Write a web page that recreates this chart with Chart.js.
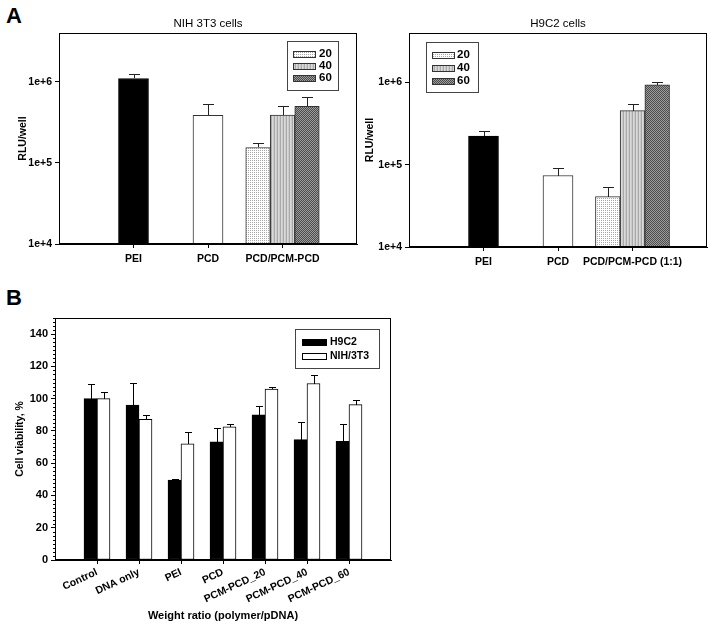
<!DOCTYPE html>
<html><head><meta charset="utf-8">
<script src="https://cdn.jsdelivr.net/npm/chart.js@4"></script>
<style>
html,body{margin:0;padding:0;background:#fff;}
body{width:714px;height:628px;position:relative;overflow:hidden;font-family:"Liberation Sans",Arial,sans-serif;}
canvas{position:absolute;}
.panel{position:absolute;font-weight:bold;font-size:22px;line-height:1;color:#000;}
</style></head><body>
<div class="panel" style="left:6px;top:5px">A</div>
<div class="panel" style="left:6px;top:287px">B</div>
<canvas id="c1" width="362" height="285" style="left:0;top:0"></canvas>
<canvas id="c2" width="359" height="290" style="left:355px;top:0"></canvas>
<canvas id="c3" width="420" height="328" style="left:0;top:300px"></canvas>
<script>
// ---------- DATA ----------
const singleGroups = ['PEI', 'PCD'];
const ratioLabels = ['20', '40', '60'];
const nihCategories = ['PEI', 'PCD', 'PCD/PCM-PCD'];
const h9Categories = ['PEI', 'PCD', 'PCD/PCM-PCD (1:1)'];
const nihTitle = 'NIH 3T3 cells';
const h9Title = 'H9C2 cells';
const nihSingle = [1.1e6, 3.85e5];
const nihSingleErr = [1.4e5, 1.55e5];
const nihRatio = [1.55e5, 3.9e5, 5.0e5];
const nihRatioErr = [2.0e4, 1.1e5, 1.5e5];
const h9Single = [2.23e5, 7.4e4];
const h9SingleErr = [3.4e4, 1.7e4];
const h9Ratio = [4.1e4, 4.56e5, 9.35e5];
const h9RatioErr = [1.3e4, 8.7e4, 7.5e4];
const rluTicks = [1e4, 1e5, 1e6];
const rluTickLabels = ['1e+4', '1e+5', '1e+6'];

const viabilityCategories = ['Control', 'DNA only', 'PEI', 'PCD', 'PCM-PCD_20', 'PCM-PCD_40', 'PCM-PCD_60'];
const viabilitySeries = ['H9C2', 'NIH/3T3'];
const h9Viability = [100, 96, 49.5, 73.3, 90, 74.6, 73.6];
const h9ViabilityErr = [8.9, 14, 0.8, 8.3, 5.4, 11.1, 10.7];
const nihViability = [100, 87.2, 72, 82.6, 106, 109.4, 96.3];
const nihViabilityErr = [4.3, 2.8, 7.1, 1.9, 1.0, 5.2, 2.7];
const viabilityTicks = [0, 20, 40, 60, 80, 100, 120, 140];

// ---------- STYLE HELPERS ----------
const FONT = "'Liberation Sans', Arial, sans-serif";
Chart.defaults.font.family = FONT;
Chart.defaults.color = '#000';

const dummy = document.createElement('canvas').getContext('2d');
function makePattern(w, h, bg, fg, cells) {
  const c = document.createElement('canvas'); c.width = w; c.height = h;
  const x = c.getContext('2d');
  x.fillStyle = bg; x.fillRect(0, 0, w, h);
  x.fillStyle = fg;
  cells.forEach(([a, b]) => x.fillRect(a, b, 1, 1));
  return dummy.createPattern(c, 'repeat');
}
function stripePattern(cols) {
  const c = document.createElement('canvas'); c.width = cols.length; c.height = 1;
  const x = c.getContext('2d');
  cols.forEach((col, i) => { x.fillStyle = col; x.fillRect(i, 0, 1, 1); });
  return dummy.createPattern(c, 'repeat');
}
const ratioFills = [
  makePattern(2, 2, '#ffffff', '#a8a8a8', [[0, 0]]),
  stripePattern(['#cacaca', '#a9a9a9', '#dadada']),
  makePattern(2, 2, '#4c4c4c', '#9c9c9c', [[0, 0], [1, 1]])
];

function padAt(n, idx, v) { const a = Array(n).fill(null); a[idx] = v; return a; }

// ---------- PLUGINS ----------
const framePlugin = {
  id: 'frame',
  afterDraw(chart) {
    const a = chart.chartArea, ctx = chart.ctx;
    ctx.save(); ctx.strokeStyle = '#000'; ctx.lineWidth = 1;
    ctx.strokeRect(Math.round(a.left) + 0.5, Math.round(a.top) + 0.5,
                   Math.round(a.right - a.left) - 1, Math.round(a.bottom - a.top) - 1);
    ctx.restore();
  }
};
const errorPlugin = {
  id: 'errorBars',
  afterDatasetsDraw(chart, args, opts) {
    const ctx = chart.ctx, ys = chart.scales.y, cap = opts.cap || 8;
    ctx.save(); ctx.strokeStyle = opts.color || '#000'; ctx.lineWidth = 1;
    chart.data.datasets.forEach((ds, di) => {
      if (!ds.errors) return;
      const meta = chart.getDatasetMeta(di);
      meta.data.forEach((bar, i) => {
        const v = ds.data[i], e = ds.errors[i];
        if (v == null || e == null) return;
        const top = Math.round(ys.getPixelForValue(v + e)) + 0.5;
        const x = Math.round(bar.x) + 0.5;
        ctx.beginPath();
        ctx.moveTo(x, Math.round(bar.y)); ctx.lineTo(x, top);
        ctx.moveTo(x - cap / 2, top); ctx.lineTo(x + cap / 2, top);
        ctx.stroke();
      });
    });
    ctx.restore();
  }
};
const boxLegendPlugin = {
  id: 'boxLegend',
  afterDraw(chart, args, o) {
    if (!o || !o.items) return;
    const ctx = chart.ctx;
    ctx.save();
    ctx.fillStyle = '#fff';
    ctx.fillRect(o.x, o.y, o.w, o.h);
    ctx.strokeStyle = '#444'; ctx.lineWidth = 1;
    ctx.strokeRect(o.x + 0.5, o.y + 0.5, o.w, o.h);
    ctx.font = 'bold ' + o.fontSize + 'px ' + FONT;
    ctx.textBaseline = 'middle'; ctx.textAlign = 'left';
    o.items.forEach((di, i) => {
      const ds = chart.data.datasets[di];
      const cy = o.firstRow + i * o.gap;
      const sy = Math.round(cy - o.sh / 2);
      ctx.fillStyle = ds.backgroundColor;
      ctx.fillRect(o.sx, sy, o.sw, o.sh);
      ctx.strokeStyle = ds.borderColor; ctx.lineWidth = 1;
      ctx.strokeRect(o.sx + 0.5, sy + 0.5, o.sw, o.sh);
      ctx.fillStyle = '#000';
      ctx.fillText(ds.label, o.tx, cy);
    });
    ctx.restore();
  }
};
const minorTickPlugin = {
  id: 'minorTicks',
  afterDraw(chart, args, o) {
    if (!o || !o.step) return;
    const s = chart.scales.y, ctx = chart.ctx, left = Math.round(chart.chartArea.left);
    ctx.save(); ctx.strokeStyle = '#000'; ctx.lineWidth = 1; ctx.beginPath();
    for (let v = s.min; v <= s.max + 1e-9; v += o.step) {
      if (Math.abs(v % o.major) < 1e-9) continue;
      const y = Math.round(s.getPixelForValue(v)) + 0.5;
      ctx.moveTo(left - o.len, y); ctx.lineTo(left, y);
    }
    ctx.stroke(); ctx.restore();
  }
};

// ---------- PANEL A ----------
function rluChart(canvasId, title, cats, single, singleErr, ratio, ratioErr, geo) {
  const n = cats.length + 2;
  const labels = ['', ...cats, ''];
  const datasets = [];
  singleGroups.forEach((g, k) => {
    datasets.push({
      label: g, data: padAt(n, k + 1, single[k]), errors: padAt(n, k + 1, singleErr[k]),
      backgroundColor: k === 0 ? '#000' : '#fff', borderColor: k === 0 ? '#000' : '#333',
      borderWidth: 1, barThickness: 30, borderSkipped: false
    });
  });
  ratioLabels.forEach((r, k) => {
    datasets.push({
      label: r, data: padAt(n, 3, ratio[k]), errors: padAt(n, 3, ratioErr[k]),
      backgroundColor: ratioFills[k], borderColor: '#333',
      borderWidth: 1, barThickness: geo.rw, borderSkipped: false
    });
  });
  return new Chart(document.getElementById(canvasId), {
    type: 'bar',
    data: { labels, datasets },
    plugins: [framePlugin, errorPlugin, boxLegendPlugin],
    options: {
      responsive: false, animation: false,
      datasets: { bar: { skipNull: true } },
      layout: { padding: { left: 0, right: geo.padR, top: 0, bottom: 0 } },
      plugins: {
        legend: { display: false }, tooltip: { enabled: false },
        title: { display: true, text: title, fullSize: false, color: '#000',
                 font: { size: 11.5, weight: 'normal' }, padding: { top: 17, bottom: 2.2 } },
        errorBars: { cap: 11, color: '#222' },
        boxLegend: geo.legend
      },
      scales: {
        x: {
          type: 'category', offset: false,
          grid: { offset: false, drawOnChartArea: false, tickLength: 4,
                  tickColor: c => (c.tick && c.tick.label) ? '#000' : 'rgba(0,0,0,0)' },
          border: { color: '#000' },
          ticks: { autoSkip: false, maxRotation: 0, padding: 5, color: '#000',
                   font: { size: 10.5, weight: 'bold' } },
          afterFit: s => { s.height = geo.xh; }
        },
        y: {
          type: 'logarithmic', min: 1e4, max: 4e6,
          afterBuildTicks: s => { s.ticks = rluTicks.map(v => ({ value: v })); },
          grid: { drawOnChartArea: false, tickLength: 4, color: '#000' },
          border: { color: '#000' },
          ticks: { padding: 3, color: '#000', font: { size: 10.5, weight: 'bold' },
                   callback: (v, i) => rluTickLabels[i] },
          title: { display: true, text: 'RLU/well', color: '#000',
                   font: { size: 10.5, weight: 'bold' }, padding: { top: geo.ytp, bottom: 0 } },
          afterFit: s => { s.width = geo.yw; }
        }
      }
    }
  });
}

rluChart('c1', nihTitle, nihCategories, nihSingle, nihSingleErr, nihRatio, nihRatioErr, {
  rw: 24.5, padR: 4, xh: 41, yw: 59, ytp: 17,
  legend: { items: [2, 3, 4], x: 287, y: 41, w: 51, h: 49, firstRow: 53.5, gap: 12.2,
            sx: 293, sw: 22, sh: 6, tx: 319, fontSize: 11.5 }
});
rluChart('c2', h9Title, h9Categories, h9Single, h9SingleErr, h9Ratio, h9RatioErr, {
  rw: 24.7, padR: 7, xh: 43, yw: 54, ytp: 9,
  legend: { items: [2, 3, 4], x: 71, y: 42, w: 52, h: 50, firstRow: 55, gap: 13,
            sx: 77, sw: 22, sh: 6, tx: 102, fontSize: 11.5 }
});

// ---------- PANEL B ----------
(function () {
  const labels = ['', ...viabilityCategories, ''];
  const pad = a => [null, ...a, null];
  new Chart(document.getElementById('c3'), {
    type: 'bar',
    data: {
      labels,
      datasets: [
        { label: viabilitySeries[0], data: pad(h9Viability), errors: pad(h9ViabilityErr),
          backgroundColor: '#000', borderColor: '#000', borderWidth: 1, barThickness: 13, borderSkipped: false },
        { label: viabilitySeries[1], data: pad(nihViability), errors: pad(nihViabilityErr),
          backgroundColor: '#fff', borderColor: '#000', borderWidth: 1, barThickness: 13, borderSkipped: false }
      ]
    },
    plugins: [framePlugin, errorPlugin, boxLegendPlugin, minorTickPlugin],
    options: {
      responsive: false, animation: false,
      datasets: { bar: { skipNull: true } },
      layout: { padding: { left: 0, right: 29, top: 18, bottom: 0 } },
      plugins: {
        legend: { display: false }, tooltip: { enabled: false },
        errorBars: { cap: 7, color: '#000' },
        boxLegend: { items: [0, 1], x: 295, y: 29, w: 84, h: 39, firstRow: 42.3, gap: 13.4,
                     sx: 302, sw: 24, sh: 6, tx: 330, fontSize: 10.5 },
        minorTicks: { step: 2.5, major: 20, len: 2 }
      },
      scales: {
        x: {
          type: 'category', offset: false,
          grid: { offset: false, drawOnChartArea: false, tickLength: 4,
                  tickColor: c => (c.tick && c.tick.label) ? '#000' : 'rgba(0,0,0,0)' },
          border: { color: '#000' },
          ticks: { autoSkip: false, minRotation: 25, maxRotation: 25, padding: 2, color: '#000',
                   font: { size: 10.5, weight: 'bold' } },
          title: { display: true, text: 'Weight ratio (polymer/pDNA)', color: '#000',
                   font: { size: 11, weight: 'bold' }, padding: { top: 0, bottom: 5.5 } },
          afterFit: s => { s.height = 68; }
        },
        y: {
          min: 0, max: 150,
          afterBuildTicks: s => { s.ticks = viabilityTicks.map(v => ({ value: v })); },
          grid: { drawOnChartArea: false, tickLength: 4, color: '#000' },
          border: { color: '#000' },
          ticks: { padding: 3, color: '#000', font: { size: 11, weight: 'bold' } },
          title: { display: true, text: 'Cell viability, %', color: '#000',
                   font: { size: 10.5, weight: 'bold' }, padding: { top: 13.5, bottom: 0 } },
          afterFit: s => { s.width = 55; }
        }
      }
    }
  });
})();
</script>
</body></html>
